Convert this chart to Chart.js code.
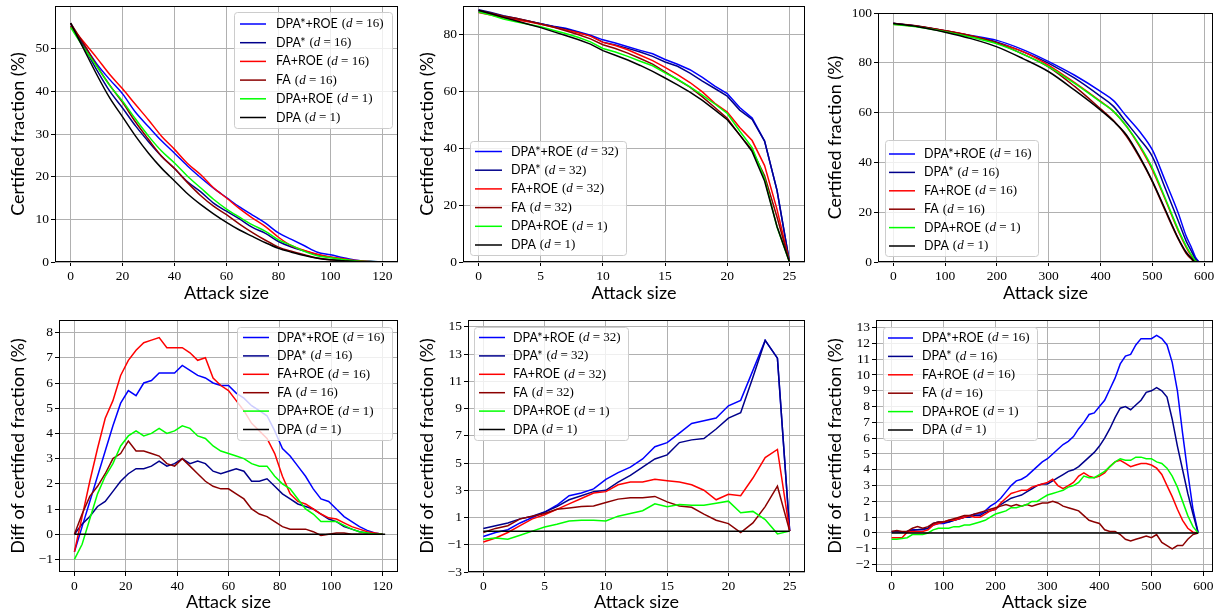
<!DOCTYPE html>
<html>
<head>
<meta charset="utf-8">
<script src="https://cdn.jsdelivr.net/npm/chart.js@4.4.0/dist/chart.umd.min.js"></script>
<style>
  html, body { margin: 0; padding: 0; background: #fff; }
  body { width: 1217px; height: 613px; position: relative; overflow: hidden; }
  canvas { position: absolute; }
</style>
</head>
<body>
<canvas id="p1"></canvas>
<canvas id="p2"></canvas>
<canvas id="p3"></canvas>
<canvas id="p4"></canvas>
<canvas id="p5"></canvas>
<canvas id="p6"></canvas>
<script>
// Series names, colours and legend d-values
const seriesNames = ['DPA*+ROE', 'DPA*', 'FA+ROE', 'FA', 'DPA+ROE', 'DPA'];
const seriesColors = ['#0000ff', '#00008b', '#ff0000', '#8b0000', '#00ff00', '#000000'];
const dLeft = [16, 16, 16, 16, 1, 1];
const dMid = [32, 32, 32, 32, 1, 1];
const dRight = [16, 16, 16, 16, 1, 1];

// ---- top left: certified fraction ----
const topLeftX = [0,5,10,15,20,25,30,35,40,45,50,55,60,65,70,75,80,85,90,95,100,105,110,115,120];
const topLeftDpaStarRoe = [55.3,51,46.5,42.8,39.4,35.1,31.7,28.4,25.5,22.5,19.8,17.3,15.1,12.9,11,9.1,6.8,5.3,3.8,2.3,1.7,1.0,0.4,0.15,0];
const topLeftDpaStar = [56,50.6,45.1,40.1,36.1,31.9,28.2,24.8,21.9,18.8,16.5,13.8,11.9,10.1,8.1,6.7,4.8,3.5,2.6,1.7,1.1,0.6,0.2,0.1,0];
const topLeftFaRoe = [55.3,51.6,47.9,44,40.6,36.9,33.3,29.5,26.4,23.1,20.5,17.4,15,12.5,10.3,8.3,5.8,3.8,2.7,1.8,1.15,0.75,0.35,0.1,0];
const topLeftFa = [56,51.2,46.1,41.5,37.4,32.8,28.7,24.8,21.9,18.6,15.6,13.1,11.1,8.9,6.9,5.1,3.5,2.5,1.7,0.95,0.55,0.35,0.1,0.05,0];
const topLeftDpaRoe = [55,50.3,45.9,41.4,37.7,33.5,29.5,26,23.2,20.1,17.4,14.7,12.4,10.5,8.7,7.2,5.2,3.9,2.5,1.45,1.0,0.6,0.25,0.1,0];
const topLeftDpa = [56,50,44,38.5,34,29.5,25.5,22,19,16,13.5,11.3,9.3,7.5,6,4.5,3.2,2.3,1.5,0.9,0.5,0.3,0.1,0.05,0];

// ---- top middle ----
const topMidX = [0,1,2,3,4,5,6,7,8,9,10,11,12,13,14,15,16,17,18,19,20,21,22,23,24,25];
const topMidDpaStarRoe = [88.1,87.2,86.1,85.4,84.6,83.8,82.9,82.2,81.0,79.7,78.1,77.0,75.7,74.4,73.2,71.2,69.5,67.6,64.9,61.8,59.2,54.3,50.6,42.5,25.2,0];
const topMidDpaStar = [88.7,87.7,86.6,85.7,84.7,83.8,82.8,81.9,80.8,79.5,77.3,76.3,75.1,73.8,72.3,70.3,68.8,66.4,63.6,61.0,58.3,53.4,50.1,42.5,25.2,0];
const topMidFaRoe = [87.7,86.8,85.9,85.2,84.5,83.6,82.6,81.6,80.6,79.4,77.2,76.1,74.6,72.7,70.8,68.4,65.9,63.1,59.8,55.8,52.7,47.3,42.7,33.9,18.5,0];
const topMidFa = [88.4,87.5,86.4,85.7,84.7,83.7,82.6,81.3,80.0,78.45,76.4,75.05,73.45,71.55,69.55,66.85,64.15,61.45,58.05,54.3,50.55,44.6,39.4,30.3,15.8,0];
const topMidDpaRoe = [87.9,86.8,85.4,84.5,83.6,82.7,81.5,80.35,79.0,77.4,75.05,73.8,72.3,70.6,69.0,66.5,64.25,61.6,58.7,55.55,52.2,46.05,40.25,29.35,12.3,0];
const topMidDpa = [88.5,87.3,86,84.8,83.6,82.4,81,79.6,78.2,76.6,74.3,72.7,71,69.1,67,64.7,62.3,59.7,56.8,53.5,50,44.7,38.8,28.5,12.5,0];

// ---- top right ----
const topRightX = [0,50,100,150,200,250,300,350,400,425,450,475,500,525,550,565,575,583,590];
const topRightDpaStarRoe = [95.8,94.6,92.8,91,89,85.3,80.5,75,68.5,64.8,58.5,52.5,45,32.5,19.6,10.5,6,2,0];
const topRightDpaStar = [95.9,94.6,92.9,90.8,88.3,84.5,79.8,73.8,66.5,62.5,56,49.5,42.3,29.5,16.5,8.5,4.5,1.2,0];
const topRightFaRoe = [95.5,94.5,92.9,90.9,88,84.5,79,72,64.5,60.5,54.5,46.5,37,25,12.5,6,2.5,0.3,0];
const topRightFa = [95.9,94.7,92.9,90.8,88,83.5,78.3,70.5,61.5,56.8,50.5,42,32.2,20.5,9.2,3.5,1.2,0,0];
const topRightDpaRoe = [95.4,94.3,92.5,90.3,87.6,83.5,78.4,71.7,64.3,60.5,54.5,47,37.7,25.5,13,6.5,3,0.5,0];
const topRightDpa = [95.8,94.4,92.3,89.7,86.4,81.7,76.4,69,61,56.5,51,42.5,32.5,21,9.5,4,1.6,0,0];

// ---- bottom left: difference to DPA ----
const botLeftX = [0,3,6,9,12,15,18,21,24,27,30,33,36,39,42,45,48,51,54,57,60,63,66,69,72,75,78,81,84,87,90,93,96,99,102,105,108,111,114,117,120];
const botLeftDpaStarRoe = [-0.7,0.3,1.3,2.3,3.3,4.3,5.2,5.7,5.5,6.0,6.1,6.4,6.4,6.4,6.7,6.5,6.3,6.2,6.0,5.9,5.9,5.6,5.4,5.1,4.9,4.7,4.1,3.4,3.1,2.7,2.3,1.8,1.4,1.3,1.0,0.7,0.5,0.3,0.15,0.05,0];
const botLeftDpaStar = [0,0.4,0.7,1.1,1.3,1.7,2.1,2.4,2.6,2.6,2.7,2.9,2.7,2.8,3.0,2.8,2.9,2.8,2.5,2.4,2.5,2.6,2.5,2.1,2.1,2.2,1.9,1.6,1.4,1.2,1.1,1.0,0.8,0.6,0.5,0.3,0.2,0.1,0.05,0,0];
const botLeftFaRoe = [-0.7,0.7,2.1,3.4,4.6,5.3,6.3,6.9,7.3,7.6,7.7,7.8,7.4,7.4,7.4,7.2,6.9,7.0,6.2,5.9,5.7,5.3,4.9,4.4,4.1,3.8,3.2,2.3,1.6,1.3,1.2,1.0,0.8,0.65,0.6,0.45,0.3,0.2,0.1,0.05,0];
const botLeftFa = [0,0.8,1.5,1.9,2.4,3.0,3.2,3.7,3.3,3.3,3.2,3.1,2.8,2.7,3.0,2.7,2.4,2.1,1.9,1.8,1.8,1.6,1.4,1.0,0.8,0.7,0.5,0.3,0.2,0.2,0.2,0.1,-0.05,0,0.05,0.05,0,0,0,0,0];
const botLeftDpaRoe = [-1,-0.4,0.6,1.6,2.3,2.8,3.5,3.9,4.1,3.9,4.0,4.2,4.0,4.1,4.3,4.2,3.9,3.8,3.5,3.3,3.2,3.1,3.0,2.8,2.7,2.7,2.3,2.0,1.8,1.4,1.0,0.8,0.5,0.5,0.5,0.35,0.2,0.1,0.05,0,0];
const botLeftDpaX = [0, 121];
const botLeftDpa = [0, 0];

// ---- bottom middle ----
const botMidX = [0,1,2,3,4,5,6,7,8,9,10,11,12,13,14,15,16,17,18,19,20,21,22,23,24,25];
const botMidDpaStarRoe = [-0.4,-0.1,0.1,0.6,1.0,1.4,1.9,2.6,2.8,3.1,3.8,4.3,4.7,5.3,6.2,6.5,7.2,7.9,8.1,8.3,9.2,9.6,11.8,14,12.7,0];
const botMidDpaStar = [0.2,0.4,0.6,0.9,1.1,1.4,1.8,2.3,2.6,2.9,3.0,3.6,4.1,4.7,5.3,5.6,6.5,6.7,6.8,7.5,8.3,8.7,11.3,14,12.7,0];
const botMidFaRoe = [-0.8,-0.5,-0.1,0.4,0.9,1.2,1.6,2.0,2.4,2.8,2.9,3.4,3.6,3.6,3.8,3.7,3.6,3.4,3.0,2.3,2.7,2.6,3.9,5.4,6.0,0];
const botMidFa = [-0.1,0.2,0.4,0.9,1.1,1.3,1.6,1.7,1.8,1.85,2.1,2.35,2.45,2.45,2.55,2.15,1.85,1.75,1.25,0.8,0.55,-0.1,0.6,1.8,3.3,0];
const botMidDpaRoe = [-0.6,-0.5,-0.6,-0.3,0.0,0.3,0.5,0.75,0.8,0.8,0.75,1.1,1.3,1.5,2.0,1.8,1.95,1.9,1.9,2.05,2.2,1.35,1.45,0.85,-0.2,0];
const botMidDpaX = [0, 25];
const botMidDpa = [0, 0];

// ---- bottom right ----
const botRightX = [0,10,20,30,40,50,60,70,80,90,100,110,120,130,140,150,160,170,180,190,200,210,220,230,240,250,260,270,280,290,300,310,320,330,340,350,360,370,380,390,400,410,420,430,440,450,460,470,480,490,500,510,520,530,540,550,560,570,580,590];
const botRightDpaStarRoe = [0.05,0.1,0.05,0.1,0.2,0.2,0.2,0.3,0.5,0.6,0.6,0.7,0.8,0.9,1.0,1.1,1.2,1.2,1.4,1.7,1.9,2.2,2.6,3.0,3.3,3.4,3.6,3.9,4.2,4.5,4.7,5.0,5.3,5.6,5.8,6.1,6.6,7.0,7.5,7.6,8.0,8.4,9.1,9.8,10.7,11.2,11.3,11.9,12.3,12.3,12.3,12.5,12.3,11.9,10.8,9.0,6.3,3.8,1.5,0];
const botRightDpaStar = [0.1,0.1,0.05,0.1,0.15,0.2,0.25,0.3,0.6,0.7,0.7,0.7,0.8,0.9,1.0,1.0,1.1,1.1,1.3,1.4,1.5,1.8,2.0,2.2,2.3,2.4,2.6,2.8,3.0,3.1,3.1,3.3,3.5,3.7,3.9,4.0,4.2,4.5,4.8,5.1,5.5,6.0,6.6,7.3,7.9,8.0,7.8,8.1,8.4,8.9,9.0,9.2,9.0,8.6,7.2,5.5,4.0,2.5,1.2,0];
const botRightFaRoe = [-0.3,-0.3,-0.3,0.05,0.1,0.1,0.1,0.2,0.5,0.6,0.7,0.8,0.8,0.9,1.0,1.1,1.0,1.0,1.2,1.4,1.5,1.9,2.2,2.5,2.6,2.7,2.7,2.9,3.0,3.1,3.2,3.4,3.0,2.8,3.0,3.2,3.6,3.8,3.6,3.5,3.6,3.8,4.2,4.5,4.6,4.4,4.2,4.3,4.4,4.4,4.3,4.1,3.7,3.0,2.3,1.5,0.8,0.3,0.05,0];
const botRightFa = [0.1,0.15,0.1,0.1,0.3,0.4,0.3,0.4,0.6,0.7,0.7,0.8,0.9,1.0,1.1,1.1,1.2,1.3,1.4,1.5,1.6,1.7,1.8,1.7,1.8,1.7,1.8,1.7,1.8,1.9,1.9,2.0,1.9,1.7,1.6,1.5,1.4,1.1,0.8,0.7,0.6,0.2,0.1,0.1,-0.1,-0.4,-0.5,-0.4,-0.3,-0.2,-0.3,-0.1,-0.6,-0.8,-1.0,-0.8,-0.8,-0.4,-0.1,0];
const botRightDpaRoe = [-0.4,-0.4,-0.35,-0.3,-0.1,-0.1,-0.1,0.0,0.2,0.3,0.3,0.3,0.4,0.4,0.5,0.5,0.6,0.7,0.8,1.0,1.2,1.3,1.4,1.6,1.6,1.7,1.8,2.0,2.0,2.2,2.4,2.5,2.6,2.7,2.9,3.0,3.2,3.6,3.5,3.5,3.7,3.9,4.2,4.5,4.7,4.6,4.6,4.8,4.8,4.7,4.7,4.5,4.4,4.1,3.6,2.9,2.0,1.1,0.4,0];
const botRightDpaX = [0, 590];
const botRightDpa = [0, 0];

// tick labels
const ticksX120 = [0, 20, 40, 60, 80, 100, 120];
const ticksX25 = [0, 5, 10, 15, 20, 25];
const ticksX600 = [0, 100, 200, 300, 400, 500, 600];
const ticksYTopLeft = [0, 10, 20, 30, 40, 50];
const ticksYTopMid = [0, 20, 40, 60, 80];
const ticksYTopRight = [0, 20, 40, 60, 80, 100];
const ticksYBotLeft = [-1, 0, 1, 2, 3, 4, 5, 6, 7, 8];
const ticksYBotMid = [-3, -1, 1, 3, 5, 7, 9, 11, 13, 15];
const ticksYBotRight = [-2, -1, 0, 1, 2, 3, 4, 5, 6, 7, 8, 9, 10, 11, 12, 13];

const SANS = 'Lato';
const SERIF = '"Liberation Serif"';

function toPoints(xs, ys) {
    return xs.map((x, i) => ({ x: x, y: ys[i] }));
}

function fmtTick(v) {
    return v < 0 ? '\u2212' + Math.abs(v) : String(v);
}

// full black frame round the plot area
const framePlugin = {
    id: 'frame',
    afterDatasetsDraw(chart) {
        const a = chart.chartArea;
        const ctx = chart.ctx;
        ctx.save();
        ctx.strokeStyle = '#000';
        ctx.lineWidth = 1;
        ctx.strokeRect(Math.round(a.left) + 0.5, Math.round(a.top) + 0.5,
            Math.round(a.right - a.left) - 1, Math.round(a.bottom - a.top) - 1);
        ctx.restore();
    }
};

// matplotlib-style legend box, drawn by hand (mixed sans / serif math text)
function legendPlugin(box, lg, dValues) {
    return {
        id: 'mplLegend',
        afterDraw(chart) {
            const ctx = chart.ctx;
            const x = lg.x - box.x, y = lg.y - box.y;
            ctx.save();
            ctx.beginPath();
            ctx.roundRect(x + 0.5, y + 0.5, lg.w, lg.h, 3);
            ctx.fillStyle = 'rgba(255,255,255,0.8)';
            ctx.fill();
            ctx.strokeStyle = '#cccccc';
            ctx.lineWidth = 1;
            ctx.stroke();
            ctx.textBaseline = 'middle';
            ctx.fillStyle = '#000';
            seriesNames.forEach((name, i) => {
                const ry = lg.row0 - box.y + i * lg.gap;
                ctx.beginPath();
                ctx.moveTo(lg.lx0 - box.x, ry);
                ctx.lineTo(lg.lx1 - box.x, ry);
                ctx.strokeStyle = seriesColors[i];
                ctx.lineWidth = 1.5;
                ctx.stroke();
                let tx = lg.tx - box.x;
                ctx.font = '12.5px ' + SANS;
                ctx.fillText(name, tx, ry);
                tx += ctx.measureText(name).width + 4;
                ctx.font = '13px ' + SERIF;
                ctx.fillText('(', tx, ry);
                tx += ctx.measureText('(').width;
                ctx.font = 'italic 13px ' + SERIF;
                ctx.fillText('d', tx, ry);
                tx += ctx.measureText('d').width;
                ctx.font = '13px ' + SERIF;
                const rest = ' = ' + dValues[i] + ')';
                ctx.fillText(rest, tx, ry);
            });
            ctx.restore();
        }
    };
}

function makePanel(p) {
    const canvas = document.getElementById(p.id);
    canvas.width = p.box.w;
    canvas.height = p.box.h;
    canvas.style.left = p.box.x + 'px';
    canvas.style.top = p.box.y + 'px';

    const datasets = p.series.map((s, i) => ({
        label: seriesNames[i],
        data: toPoints(s[0], s[1]),
        borderColor: seriesColors[i],
        backgroundColor: seriesColors[i],
        borderWidth: 1.5,
        pointRadius: 0,
        fill: false,
        order: 10 - i,
        cubicInterpolationMode: p.smooth ? 'monotone' : 'default',
        tension: 0
    }));

    const tickFont = { family: SERIF, size: 13.5 };
    const gridOpts = { color: '#b0b0b0', lineWidth: 1, tickLength: 4, tickColor: '#000' };

    new Chart(canvas, {
        type: 'line',
        data: { datasets: datasets },
        options: {
            responsive: false,
            devicePixelRatio: 1,
            animation: false,
            layout: {
                padding: {
                    left: 0, bottom: 0,
                    top: p.area.top - p.box.y,
                    right: p.box.x + p.box.w - p.area.right
                }
            },
            plugins: { legend: { display: false }, tooltip: { enabled: false } },
            scales: {
                x: {
                    type: 'linear',
                    min: p.xr[0], max: p.xr[1],
                    afterBuildTicks: s => { s.ticks = p.xTicks.map(v => ({ value: v })); },
                    afterFit: s => {
                        s.height = p.box.y + p.box.h - p.area.bottom;
                        s.paddingLeft = 0; s.paddingRight = 0;
                    },
                    ticks: { font: tickFont, color: '#000', padding: 2, maxRotation: 0, autoSkip: false, callback: fmtTick },
                    grid: gridOpts,
                    border: { display: false },
                    title: {
                        display: true, text: 'Attack size', color: '#000',
                        font: { family: SANS, size: 18 },
                        padding: { top: 0, bottom: p.xTitlePad }
                    }
                },
                y: {
                    type: 'linear',
                    min: p.yr[0], max: p.yr[1],
                    afterBuildTicks: s => { s.ticks = p.yTicks.map(v => ({ value: v })); },
                    afterFit: s => {
                        s.width = p.area.left - p.box.x;
                        s.paddingTop = 0; s.paddingBottom = 0;
                    },
                    ticks: { font: tickFont, color: '#000', padding: 2, autoSkip: false, callback: fmtTick },
                    grid: gridOpts,
                    border: { display: false },
                    title: {
                        display: true, text: p.yTitle, color: '#000',
                        font: { family: SANS, size: 18 },
                        padding: { top: p.yTitlePad, bottom: 0 }
                    }
                }
            }
        },
        plugins: [framePlugin, legendPlugin(p.box, p.legend, p.dValues)]
    });
}

makePanel({
    id: 'p1', box: { x: 0, y: 0, w: 405, h: 305 },
    area: { left: 55, top: 6, right: 398, bottom: 262 },
    xr: [-6, 126], yr: [0, 60], xTicks: ticksX120, yTicks: ticksYTopLeft,
    yTitle: 'Certified fraction (%)', yTitlePad: 7.2, xTitlePad: 1.2, smooth: true,
    series: [[topLeftX, topLeftDpaStarRoe], [topLeftX, topLeftDpaStar], [topLeftX, topLeftFaRoe],
             [topLeftX, topLeftFa], [topLeftX, topLeftDpaRoe], [topLeftX, topLeftDpa]],
    legend: { x: 234, y: 12, w: 158, h: 116, row0: 24, gap: 18.7, lx0: 240, lx1: 266, tx: 276 },
    dValues: dLeft
});

makePanel({
    id: 'p2', box: { x: 405, y: 0, w: 405, h: 305 },
    area: { left: 463, top: 6, right: 805, bottom: 262 },
    xr: [-1.25, 26.25], yr: [0, 90], xTicks: ticksX25, yTicks: ticksYTopMid,
    yTitle: 'Certified fraction (%)', yTitlePad: 11.2, xTitlePad: 1.2, smooth: false,
    series: [[topMidX, topMidDpaStarRoe], [topMidX, topMidDpaStar], [topMidX, topMidFaRoe],
             [topMidX, topMidFa], [topMidX, topMidDpaRoe], [topMidX, topMidDpa]],
    legend: { x: 470, y: 141, w: 156, h: 114, row0: 151.5, gap: 18.7, lx0: 475, lx1: 502, tx: 511 },
    dValues: dMid
});

makePanel({
    id: 'p3', box: { x: 810, y: 0, w: 407, h: 305 },
    area: { left: 878, top: 13, right: 1213, bottom: 262 },
    xr: [-29.5, 617], yr: [0, 100], xTicks: ticksX600, yTicks: ticksYTopRight,
    yTitle: 'Certified fraction (%)', yTitlePad: 14.2, xTitlePad: 1.2, smooth: true,
    series: [[topRightX, topRightDpaStarRoe], [topRightX, topRightDpaStar], [topRightX, topRightFaRoe],
             [topRightX, topRightFa], [topRightX, topRightDpaRoe], [topRightX, topRightDpa]],
    legend: { x: 885, y: 140, w: 153, h: 116, row0: 154, gap: 18.4, lx0: 889, lx1: 915, tx: 924 },
    dValues: dRight
});

makePanel({
    id: 'p4', box: { x: 0, y: 305, w: 405, h: 308 },
    area: { left: 59, top: 320, right: 398, bottom: 572 },
    xr: [-6, 126], yr: [-1.5, 8.5], xTicks: ticksX120, yTicks: ticksYBotLeft,
    yTitle: 'Diff of certified fraction (%)', yTitlePad: 7.2, xTitlePad: 0.5, smooth: false,
    series: [[botLeftX, botLeftDpaStarRoe], [botLeftX, botLeftDpaStar], [botLeftX, botLeftFaRoe],
             [botLeftX, botLeftFa], [botLeftX, botLeftDpaRoe], [botLeftDpaX, botLeftDpa]],
    legend: { x: 237, y: 327, w: 155, h: 113, row0: 337.5, gap: 18.4, lx0: 243, lx1: 269, tx: 277 },
    dValues: dLeft
});

makePanel({
    id: 'p5', box: { x: 405, y: 305, w: 405, h: 308 },
    area: { left: 468, top: 320, right: 805, bottom: 572 },
    xr: [-1.25, 26.25], yr: [-3, 15.5], xTicks: ticksX25, yTicks: ticksYBotMid,
    yTitle: 'Diff of certified fraction (%)', yTitlePad: 11.2, xTitlePad: 0.5, smooth: false,
    series: [[botMidX, botMidDpaStarRoe], [botMidX, botMidDpaStar], [botMidX, botMidFaRoe],
             [botMidX, botMidFa], [botMidX, botMidDpaRoe], [botMidDpaX, botMidDpa]],
    legend: { x: 474, y: 327, w: 154, h: 113, row0: 337.5, gap: 18.4, lx0: 479, lx1: 505, tx: 513 },
    dValues: dMid
});

makePanel({
    id: 'p6', box: { x: 810, y: 305, w: 407, h: 308 },
    area: { left: 876, top: 320, right: 1213, bottom: 572 },
    xr: [-30, 618.5], yr: [-2.47, 13.48], xTicks: ticksX600, yTicks: ticksYBotRight,
    yTitle: 'Diff of certified fraction (%)', yTitlePad: 14.2, xTitlePad: 0.5, smooth: false,
    series: [[botRightX, botRightDpaStarRoe], [botRightX, botRightDpaStar], [botRightX, botRightFaRoe],
             [botRightX, botRightFa], [botRightX, botRightDpaRoe], [botRightDpaX, botRightDpa]],
    legend: { x: 883, y: 327, w: 154, h: 113, row0: 338, gap: 18.4, lx0: 888, lx1: 913, tx: 922 },
    dValues: dRight
});
</script>
</body>
</html>
